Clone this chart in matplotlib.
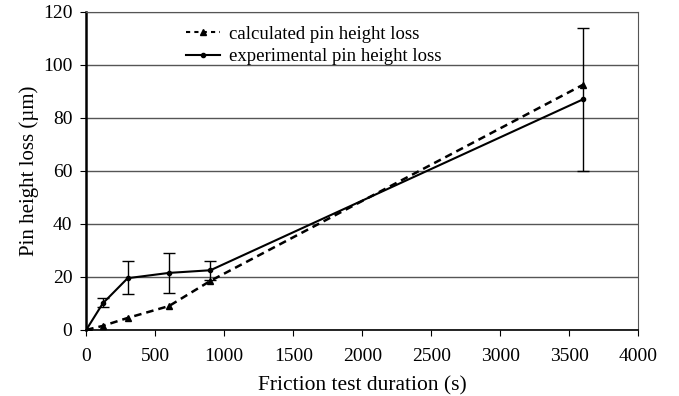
import matplotlib.pyplot as plt
from matplotlib.lines import Line2D

plt.rcParams['font.family'] = ['Liberation Serif', 'DejaVu Serif']

t = [0, 120, 300, 600, 900, 3600]
calculated = [0, 1.5, 4.5, 9, 18.5, 92.5]
experimental = [0, 10, 19.5, 21.5, 22.5, 87]
err_low = [0, 1.5, 6, 7.5, 3.5, 27]
err_high = [0, 2, 6.5, 7.5, 3.5, 27]

fig = plt.figure(figsize=(6.79, 3.96), dpi=100)
ax = fig.add_axes([0.127, 0.167, 0.813, 0.803])

ax.plot(t, calculated, '--', color='black', linewidth=1.8, marker='^', markersize=4,
        dashes=(3, 2))
ax.errorbar(t, experimental, yerr=[err_low, err_high], color='black', linewidth=1.5,
            marker='o', markersize=3, capsize=4, elinewidth=1, capthick=1)

handles = [
    Line2D([], [], color='black', linestyle='--', dashes=(2, 2), linewidth=1.5,
           marker='^', markersize=4),
    Line2D([], [], color='black', linewidth=1.5, marker='o', markersize=3),
]
labels = ['calculated pin height loss', 'experimental pin height loss']

ax.set_xlim(0, 4000)
ax.set_ylim(0, 120)
ax.set_xticks(range(0, 4001, 500))
ax.set_yticks(range(0, 121, 20))
ax.yaxis.grid(True, color='#555555', linewidth=1)
ax.set_axisbelow(True)
for s in ['top', 'right']:
    ax.spines[s].set_color('#555555')
ax.spines['left'].set_linewidth(1.8)
ax.spines['bottom'].set_linewidth(1.2)
ax.tick_params(labelsize=14, direction='out', length=4)
ax.tick_params(axis='x', pad=9)
ax.tick_params(axis='y', pad=6)
ax.set_xlabel('Friction test duration (s)', fontsize=15.5, labelpad=8)
ax.set_ylabel('Pin height loss (\u00b5m)', fontsize=15, labelpad=3)
ax.legend(handles, labels, loc='upper left', bbox_to_anchor=(0.15, 1.01), frameon=False,
          fontsize=13.5, handlelength=1.8, handletextpad=0.5, labelspacing=0.3)

fig.savefig('out.png')
